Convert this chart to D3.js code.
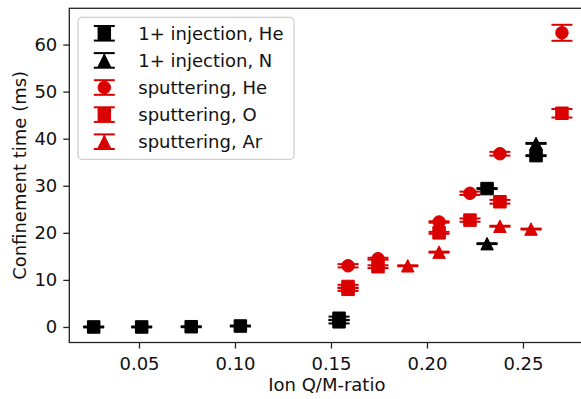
<!DOCTYPE html>
<html><head><meta charset="utf-8">
<script src="https://cdn.jsdelivr.net/npm/d3@7"></script>
<style>body{margin:0;background:#fff} svg{display:block} text{font-family:"DejaVu Sans",sans-serif;fill:#111}</style>
</head><body><svg id="c" width="581" height="399"></svg>
<script>
// ---- data ----
const xTicks = [0.05, 0.10, 0.15, 0.20, 0.25];
const yTicks = [0, 10, 20, 30, 40, 50, 60];

const heInjX = [0.0264, 0.0514, 0.0772, 0.1028, 0.1542, 0.1542, 0.2313, 0.2568];
const heInjY = [0.0, 0.0, 0.05, 0.2, 1.1, 1.85, 29.4, 36.4];
const heInjE = [0.1, 0.1, 0.1, 0.1, 0.35, 0.35, 0.1, 0.1];

const nInjX = [0.2313, 0.2568];
const nInjY = [17.7, 39.0];
const nInjE = [0.1, 0.1];

const spHeX = [0.1589, 0.1745, 0.2063, 0.2224, 0.2380, 0.2703];
const spHeY = [13.0, 14.5, 22.3, 28.4, 36.8, 62.5];
const spHeE = [0.35, 0.2, 0.15, 0.35, 0.4, 1.7];

const spOX = [0.1589, 0.1589, 0.1745, 0.2063, 0.2224, 0.2380, 0.2703];
const spOY = [8.0, 8.6, 12.8, 20.0, 22.7, 26.6, 45.4];
const spOE = [0.35, 0.35, 0.3, 0.2, 0.35, 0.4, 0.9];

const spArX = [0.1900, 0.2063, 0.2380, 0.2542];
const spArY = [13.0, 15.9, 21.4, 20.8];
const spArE = [0.1, 0.1, 0.1, 0.1];

const labels = ["1+ injection, He", "1+ injection, N", "sputtering, He", "sputtering, O", "sputtering, Ar"];

// ---- build ----
const BLACK = "#000000", RED = "#db0000";
const series = [
  {x: heInjX, y: heInjY, e: heInjE, color: BLACK, shape: "square"},
  {x: nInjX, y: nInjY, e: nInjE, color: BLACK, shape: "triangle"},
  {x: spHeX, y: spHeY, e: spHeE, color: RED, shape: "circle"},
  {x: spOX, y: spOY, e: spOE, color: RED, shape: "square"},
  {x: spArX, y: spArY, e: spArE, color: RED, shape: "triangle"}
];
series.forEach((s, i) => s.label = labels[i]);

const FS = 18;
const svg = d3.select("#c");
const L = 69.3, T = 8.3, B = 342.5, R = 584.4;
const x = d3.scaleLinear().domain([0.0137, 0.2820]).range([L, R]);
const y = d3.scaleLinear().domain([-3.3, 67.7]).range([B, T]);

// axes
const gx = svg.append("g").attr("transform", `translate(0,${B})`)
  .call(d3.axisBottom(x).tickValues(xTicks).tickFormat(d3.format(".2f")).tickSize(6).tickPadding(8.5));
const gy = svg.append("g").attr("transform", `translate(${L},0)`)
  .call(d3.axisLeft(y).tickValues(yTicks).tickFormat(d3.format("d")).tickSize(6).tickPadding(6));
[gx, gy].forEach(g => {
  g.select(".domain").remove();
  g.selectAll(".tick line").attr("stroke", "#222").attr("stroke-width", 1.3);
  g.selectAll(".tick text").attr("font-size", FS).attr("font-family", "DejaVu Sans").attr("fill", "#111");
});

// spines
svg.append("rect").attr("x", L).attr("y", T).attr("width", R - L).attr("height", B - T)
  .attr("fill", "none").attr("stroke", "#222").attr("stroke-width", 1.3);

// titles
svg.append("text").attr("x", (L + R) / 2).attr("y", 390.5).attr("text-anchor", "middle")
  .attr("font-size", FS).text("Ion Q/M-ratio");
svg.append("text").attr("transform", `translate(25.5,${(T + B) / 2}) rotate(-90)`)
  .attr("text-anchor", "middle").attr("font-size", FS).text("Confinement time (ms)");

const CAP = 10.5, MS = 12.5;
function markerPath(shape) {
  const h = MS / 2;
  if (shape === "square") return `M${-h},${-h}H${h}V${h}H${-h}Z`;
  if (shape === "triangle") return `M0,${-h}L${h},${h}L${-h},${h}Z`;
  return d3.arc()({innerRadius: 0, outerRadius: h, startAngle: 0, endAngle: 2 * Math.PI});
}

const plot = svg.append("g");
// error bars first (all series), then markers
series.forEach(s => {
  const g = plot.append("g").attr("stroke", s.color);
  s.x.forEach((xv, i) => {
    const px = x(xv), y1 = y(s.y[i] - s.e[i]), y2 = y(s.y[i] + s.e[i]);
    g.append("line").attr("x1", px).attr("x2", px).attr("y1", y1).attr("y2", y2).attr("stroke-width", 1.7);
    [y1, y2].forEach(yy => g.append("line").attr("x1", px - CAP).attr("x2", px + CAP)
      .attr("y1", yy).attr("y2", yy).attr("stroke-width", 2));
  });
});
series.forEach(s => {
  const g = plot.append("g");
  s.x.forEach((xv, i) => {
    g.append("path").attr("d", markerPath(s.shape))
      .attr("transform", `translate(${x(xv)},${y(s.y[i])})`)
      .attr("fill", s.color).attr("stroke", s.color).attr("stroke-width", 1);
  });
});

// legend
const lg = svg.append("g");
lg.append("rect").attr("x", 78).attr("y", 17.3).attr("width", 216).attr("height", 142).attr("rx", 4)
  .attr("fill", "#fff").attr("fill-opacity", 0.8).attr("stroke", "#d0d0d0").attr("stroke-width", 1.3);
series.forEach((s, i) => {
  const cy = 33.3 + i * 27.1, cx = 104.3;
  const g = lg.append("g").attr("stroke", s.color);
  g.append("line").attr("x1", cx).attr("x2", cx).attr("y1", cy - 7.3).attr("y2", cy + 7.3).attr("stroke-width", 1.7);
  [cy - 7.3, cy + 7.3].forEach(yy => g.append("line").attr("x1", cx - CAP).attr("x2", cx + CAP)
    .attr("y1", yy).attr("y2", yy).attr("stroke-width", 2));
  lg.append("path").attr("d", markerPath(s.shape)).attr("transform", `translate(${cx},${cy})`)
    .attr("fill", s.color).attr("stroke", s.color).attr("stroke-width", 1);
  lg.append("text").attr("x", 138.3).attr("y", cy + 6.3).attr("font-size", FS).text(s.label);
});
</script></body></html>
